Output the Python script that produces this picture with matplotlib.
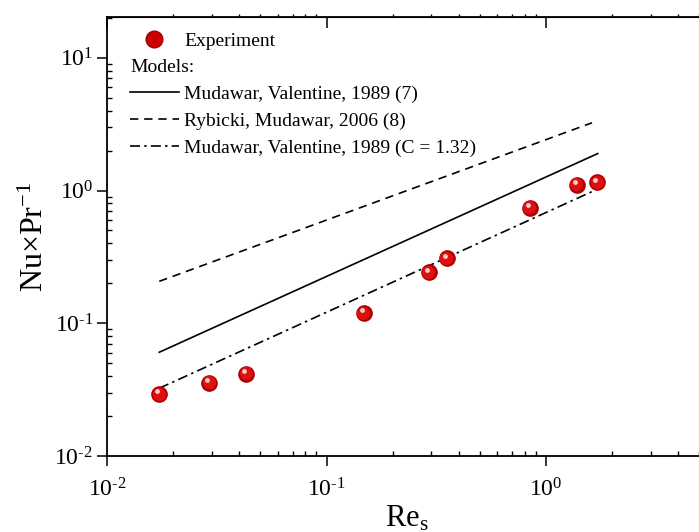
import matplotlib
matplotlib.use("Agg")
import matplotlib.pyplot as plt
from matplotlib.lines import Line2D
from matplotlib.transforms import offset_copy

plt.rcParams['font.family'] = ['Liberation Serif', 'DejaVu Serif']
plt.rcParams['mathtext.fontset'] = 'custom'
plt.rcParams['mathtext.rm'] = 'Liberation Serif'
plt.rcParams['mathtext.it'] = 'Liberation Serif:italic'

# experiment points
re_exp = [0.0173, 0.0292, 0.0430, 0.148, 0.293, 0.354, 0.845, 1.38, 1.71]
nu_exp = [0.0292, 0.0354, 0.0414, 0.119, 0.242, 0.308, 0.745, 1.11, 1.15]

# model lines (end points, power laws)
re_mv = [0.0173, 1.72]
nu_mv = [0.0605, 1.90]
re_rm = [0.0173, 1.62]
nu_rm = [0.207, 3.24]
re_mvc = [0.0173, 1.66]
nu_mvc = [0.0324, 1.0]

xticks = [0.01, 0.1, 1]
xlabels = [r'$10^{\text{-}2}$', r'$10^{\text{-}1}$', r'$10^{0}$']
yticks = [0.01, 0.1, 1, 10]
ylabels = [r'$10^{\text{-}2}$', r'$10^{\text{-}1}$', r'$10^{0}$', r'$10^{1}$']

fig = plt.figure(figsize=(6.99, 5.32), dpi=100)
ax = fig.add_axes([107/699, 76/532, 600/699, 439/532])
ax.set_xscale('log')
ax.set_yscale('log')
ax.set_xlim(0.01, 5.41)
ax.set_ylim(0.01, 20.3)

ax.plot(re_mv, nu_mv, color='black', lw=1.2)
ax.plot(re_rm, nu_rm, color='black', lw=1.2, dashes=(5, 3.5))
ax.plot(re_mvc, nu_mvc, color='black', lw=1.2, dashes=(6, 2.5, 1.5, 2.5))

# shaded balls
ax.plot(re_exp, nu_exp, 'o', ms=12, mfc='#b00000', mec='none', zorder=5)
ax.plot(re_exp, nu_exp, 'o', ms=9.5, mfc='#dd0f0f', mec='none', zorder=6,
        transform=offset_copy(ax.transData, fig=fig, x=-0.4, y=0.5, units='points'))
ax.plot(re_exp, nu_exp, 'o', ms=3.5, mfc='#f6c8c8', mec='none', zorder=7,
        transform=offset_copy(ax.transData, fig=fig, x=-1.6, y=2.0, units='points'))

ax.set_xticks(xticks)
ax.set_xticklabels(xlabels)
ax.set_yticks(yticks)
ax.set_yticklabels(ylabels)
ax.tick_params(which='major', direction='out', length=7, width=1.1, labelsize=17, pad=3)
ax.tick_params(axis='x', which='major', pad=9)
ax.tick_params(which='minor', direction='in', length=3.5, width=1.0)
ax.tick_params(axis='x', which='both', top=False)
ax.tick_params(axis='y', which='both', right=False)
for s in ax.spines.values():
    s.set_linewidth(1.3)

top = ax.secondary_xaxis('top')
top.set_xticks(xticks)
top.tick_params(which='major', direction='in', length=8, width=1.1, labeltop=False)
top.tick_params(which='minor', direction='out', length=2, width=1.0)
right = ax.secondary_yaxis('right')
right.set_yticks(yticks)
right.tick_params(which='major', direction='in', length=6, width=1.1, labelright=False)
right.tick_params(which='minor', length=0)

ax.set_xlabel(r'Re$_\mathrm{s}$', fontsize=22, labelpad=2)
ax.set_ylabel(r'Nu$\times$Pr$^{-1}$', fontsize=23, labelpad=3)

exp_h = Line2D([], [], marker='o', ls='none', ms=12, mfc='#cc0000', mec='#a00000')
blank = Line2D([], [], ls='none')
mv_h = Line2D([], [], color='black', lw=1.2)
rm_h = Line2D([], [], color='black', lw=1.2, dashes=(5, 3.5))
mvc_h = Line2D([], [], color='black', lw=1.2, dashes=(6, 2.5, 1.5, 2.5))
leg = ax.legend([exp_h, blank, mv_h, rm_h, mvc_h],
                ['Experiment', ' ', 'Mudawar, Valentine, 1989 (7)',
                 'Rybicki, Mudawar, 2006 (8)', 'Mudawar, Valentine, 1989 (C = 1.32)'],
                loc='upper left', bbox_to_anchor=(23/600, 1 - 15/439), frameon=False,
                fontsize=14, handlelength=2.5, handletextpad=0.3,
                borderpad=0, borderaxespad=0, labelspacing=0.47)
ax.text(23/600, 1 - 51/439, 'Models:', transform=ax.transAxes,
        fontsize=14, va='center', ha='left')

fig.savefig('out.png', dpi=100)
